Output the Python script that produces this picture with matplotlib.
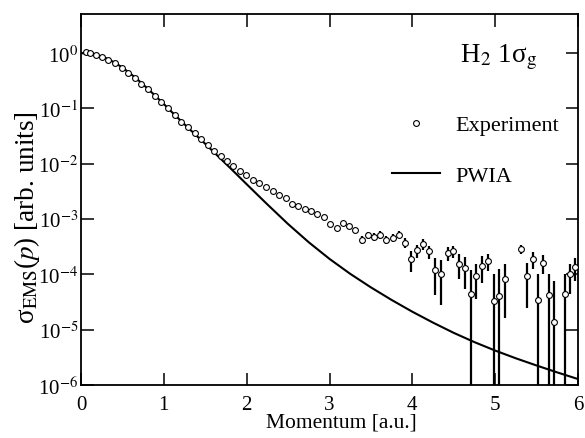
import numpy as np
import matplotlib
matplotlib.use('Agg')
import matplotlib.pyplot as plt
from matplotlib.lines import Line2D

plt.rcParams['font.family'] = ['Liberation Serif', 'DejaVu Serif']
plt.rcParams['mathtext.fontset'] = 'stix'

# Experiment: momentum [a.u.] and log10 of the intensity
p_exp = [0.059, 0.107, 0.176, 0.248, 0.328, 0.409, 0.489, 0.569, 0.650, 0.730,
         0.810, 0.891, 0.971, 1.051, 1.132, 1.212, 1.290, 1.373, 1.449, 1.530,
         1.606, 1.687, 1.763, 1.839, 1.920, 1.996, 2.077, 2.153, 2.234, 2.315,
         2.391, 2.472, 2.548, 2.624, 2.700, 2.777, 2.854, 2.931, 3.008, 3.085,
         3.162, 3.235, 3.312, 3.389, 3.462, 3.538, 3.611, 3.688, 3.761, 3.838,
         3.911, 3.988, 4.061, 4.134, 4.206, 4.279, 4.352, 4.425, 4.494, 4.567,
         4.640, 4.704, 4.773, 4.842, 4.911, 4.984, 5.049, 5.117, 5.316, 5.385,
         5.453, 5.518, 5.583, 5.644, 5.713, 5.838, 5.903, 5.968]
log_exp = [0.013, 0.0, -0.036, -0.072, -0.121, -0.187, -0.271, -0.356, -0.446, -0.549,
           -0.657, -0.771, -0.880, -1.0, -1.121, -1.236, -1.344, -1.452, -1.555, -1.658,
           -1.767, -1.868, -1.953, -2.038, -2.134, -2.206, -2.291, -2.351, -2.429, -2.490,
           -2.568, -2.627, -2.728, -2.758, -2.809, -2.857, -2.910, -2.958, -3.090, -3.155,
           -3.072, -3.126, -3.197, -3.371, -3.287, -3.317, -3.287, -3.371, -3.335, -3.281,
           -3.424, -3.729, -3.568, -3.442, -3.580, -3.926, -3.986, -3.610, -3.586, -3.807,
           -3.885, -4.357, -4.028, -3.849, -3.759, -4.488, -4.387, -4.076, -3.538, -4.028,
           -3.717, -4.464, -3.789, -4.381, -4.853, -4.357, -3.998, -3.861]
# upper error bar length in decades (0 = hidden by the marker)
bar_dex = [0.0] * 43 + [0.072, 0.060, 0.072, 0.066, 0.072, 0.066, 0.060, 0.084, 0.149, 0.108,
                        0.090, 0.102, 0.215, 0.239, 0.108, 0.096, 0.167, 0.197, 0.430, 0.209,
                        0.179, 0.131, 0.490, 0.478, 0.257, 0.078, 0.239, 0.126, 0.466, 0.137,
                        0.394, 0.735, 0.371, 0.191, 0.161]

# PWIA curve
p_pwia = [0.0, 0.1, 0.2, 0.3, 0.4, 0.5, 0.6, 0.7, 0.8, 0.9, 1.0, 1.1, 1.2, 1.3, 1.4,
          1.5, 1.6, 1.8, 2.0, 2.25, 2.5, 2.75, 3.0, 3.25, 3.5, 3.75, 4.0, 4.25, 4.5,
          4.75, 5.0, 5.25, 5.5, 5.75, 6.0]
log_pwia = [0.0, -0.01, -0.04, -0.09, -0.165, -0.26, -0.375, -0.50, -0.635, -0.775,
            -0.92, -1.07, -1.215, -1.36, -1.50, -1.64, -1.785, -2.075, -2.37, -2.735,
            -3.09, -3.42, -3.72, -3.99, -4.235, -4.4625, -4.675, -4.8725, -5.0575,
            -5.225, -5.3775, -5.5175, -5.6475, -5.7725, -5.8925]

y_exp = 10 ** np.array(log_exp)
y_err = y_exp * (10 ** np.array(bar_dex) - 1)
y_pwia = 10 ** np.array(log_pwia)

fig = plt.figure(figsize=(5.85, 4.39), dpi=100)
ax = fig.add_axes([81 / 585, 53 / 439, 497 / 585, 371 / 439])

ax.plot(p_pwia, y_pwia, color='black', lw=1.5, zorder=2)
ax.errorbar(p_exp, y_exp, yerr=y_err, fmt='none', ecolor='black', elinewidth=1.6,
            capsize=0, zorder=3)
ax.plot(p_exp, y_exp, 'o', ms=4.2, mfc='white', mec='black', mew=0.8, zorder=4)

ax.set_yscale('log')
ax.set_xlim(0, 6)
ax.set_ylim(1e-6, 5.1)
ax.set_xticks(range(7))
yt = [10.0 ** k for k in range(-6, 1)]
ax.set_yticks(yt)
ax.set_yticklabels(['10$^{%d}$' % k for k in range(-6, 1)])
ax.minorticks_off()
ax.tick_params(which='both', direction='in', top=True, right=True, length=9,
               width=1.1, labelsize=15)
ax.tick_params(axis='x', pad=7)
ax.tick_params(axis='y', pad=2)
for s in ax.spines.values():
    s.set_linewidth(1.3)

# legend
h_exp = Line2D([], [], ls='none', marker='o', ms=4.2, mfc='white', mec='black', mew=0.8)
h_pwia = Line2D([], [], color='black', lw=1.5)
ax.legend([h_exp, h_pwia], ['Experiment', 'PWIA'], loc='upper left',
          bbox_to_anchor=(0.626, 0.728), frameon=False, fontsize=16,
          borderpad=0, borderaxespad=0, handlelength=2.16, handletextpad=0.68,
          labelspacing=1.35)

ax.text(0.763, 0.873, 'H$_2$ 1σ$_{\\rm g}$', transform=ax.transAxes,
        fontsize=19.5, ha='left', va='baseline')

fig.text(27 / 585, 1 - 218 / 439, 'σ$_{\\rm EMS}$($p$) [arb. units]', rotation=90,
         ha='center', va='center', fontsize=19.5)
fig.text(341 / 585, 1 - 423 / 439, 'Momentum [a.u.]', ha='center', va='center',
         fontsize=15.5)

fig.savefig('out.png', dpi=100)
